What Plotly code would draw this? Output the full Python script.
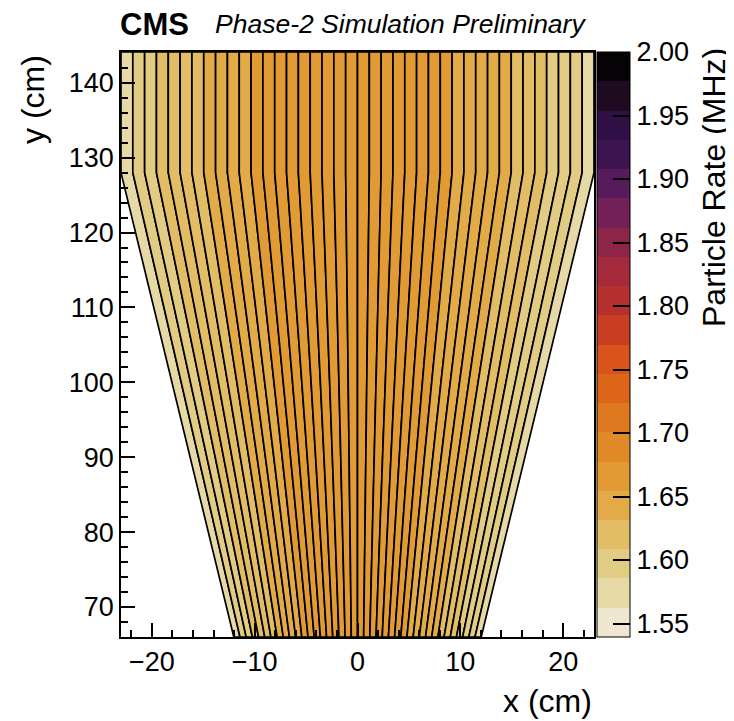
import plotly.graph_objects as go

# ---------------- data ----------------
# particle rate per strip (MHz), left to right (40 strips)
strip_rates = [1.578, 1.590, 1.600, 1.609, 1.617, 1.624, 1.631, 1.637, 1.642, 1.647,
               1.651, 1.655, 1.658, 1.661, 1.663, 1.665, 1.667, 1.668, 1.669, 1.670,
               1.670, 1.669, 1.668, 1.667, 1.665, 1.663, 1.660, 1.657, 1.654, 1.650,
               1.646, 1.641, 1.636, 1.630, 1.623, 1.616, 1.608, 1.599, 1.589, 1.577]
n_strips = len(strip_rates)
strip_x_left = -23.0          # cm, outer edge of first strip in the rectangular part
strip_pitch = 1.15            # cm
kink_y = 128.0                # cm, where strips turn from radial to vertical
apex_y = -2.0                 # cm, convergence point of radial strips (x = 0)

x_range = [-23.0, 23.0]
y_range = [66.0, 144.1]

z_min, z_max = 1.5394, 2.00
cbar_ticks = [1.55, 1.60, 1.65, 1.70, 1.75, 1.80, 1.85, 1.90, 1.95, 2.00]

band_colors = ["#efe7d2", "#e6d9a6", "#e2cc83", "#e2bd66", "#e3ab48",
               "#e29a35", "#e08a28", "#df791f", "#dc6519", "#d8541a",
               "#c83f24", "#b5302e", "#a42a3c", "#8d2548", "#722058",
               "#571a5a", "#3d1350", "#2f0f45", "#1e0b22", "#050305"]

# ---------------- figure ----------------
nb = len(band_colors)
colorscale = []
for i, c in enumerate(band_colors):
    colorscale.append([i / nb, c])
    colorscale.append([(i + 1) / nb, c])


def band_color(v):
    k = int((v - z_min) / (z_max - z_min) * nb)
    k = max(0, min(nb - 1, k))
    return band_colors[k]


def x_at(xk, y):
    return xk * (y - apex_y) / (kink_y - apex_y)


fig = go.Figure()
ybot, ytop = y_range
for i, v in enumerate(strip_rates):
    xl = strip_x_left + i * strip_pitch
    xr = xl + strip_pitch
    xs = [x_at(xl, ybot), xl, xl, xr, xr, x_at(xr, ybot), x_at(xl, ybot)]
    ys = [ybot, kink_y, ytop, ytop, kink_y, ybot, ybot]
    fig.add_trace(go.Scatter(x=xs, y=ys, mode="lines", fill="toself",
                             fillcolor=band_color(v),
                             line=dict(color="black", width=1.7),
                             hoverinfo="skip", showlegend=False))

centers = [strip_x_left + (i + 0.5) * strip_pitch for i in range(n_strips)]
fig.add_trace(go.Scatter(
    x=centers, y=[kink_y] * n_strips, mode="markers",
    marker=dict(color=strip_rates, cmin=z_min, cmax=z_max, colorscale=colorscale,
                opacity=0, size=1, showscale=True,
                colorbar=dict(x=1.0063, xanchor="left", xpad=0, ypad=0,
                              y=0.5, yanchor="middle", len=1.0, lenmode="fraction",
                              thickness=33, outlinewidth=1, outlinecolor="black",
                              tickmode="array", tickvals=cbar_ticks,
                              ticktext=["%.2f" % t for t in cbar_ticks],
                              ticks="inside", ticklen=17, tickwidth=1.5,
                              tickcolor="black",
                              tickfont=dict(size=27, color="black"))),
    hoverinfo="skip", showlegend=False))

font = "Liberation Sans, Arial, Helvetica, sans-serif"
axis_common = dict(showline=True, linecolor="black", linewidth=1.5, mirror=True,
                   ticks="inside", ticklen=14, tickwidth=1.5, tickcolor="black",
                   showgrid=False, zeroline=False, layer="above traces",
                   tickfont=dict(size=27, color="black"),
                   minor=dict(ticks="inside", ticklen=7, tickwidth=1.5,
                              tickcolor="black", dtick=2, showgrid=False))

fig.update_layout(
    width=726, height=713,
    margin=dict(l=113, r=140, t=44, b=84),
    paper_bgcolor="white", plot_bgcolor="white",
    font=dict(family=font, color="black"),
    xaxis=dict(range=x_range, dtick=10, tick0=0, **axis_common),
    yaxis=dict(range=y_range, dtick=10, tick0=0, **axis_common),
    annotations=[
        dict(text="<b>CMS</b>", xref="paper", yref="paper", x=-0.006, y=1.0475,
             xanchor="left", yanchor="middle", showarrow=False,
             font=dict(size=31, family=font)),
        dict(text="<i>Phase-2 Simulation Preliminary</i>", xref="paper", yref="paper",
             x=0.1945, y=1.048, xanchor="left", yanchor="middle",
             showarrow=False, font=dict(size=26.5, family=font)),
        dict(text="x (cm)", xref="paper", yref="paper", x=1.0, y=-0.1436,
             xanchor="right", yanchor="bottom", showarrow=False,
             font=dict(size=32, family=font)),
        dict(text="y (cm)", xref="paper", yref="paper", x=-0.186, y=0.918,
             xanchor="center", yanchor="middle", textangle=-90, showarrow=False,
             font=dict(size=32, family=font)),
        dict(text="Particle Rate (MHz)", xref="paper", yref="paper", x=1.2537, y=0.7675,
             xanchor="center", yanchor="middle", textangle=-90, showarrow=False,
             font=dict(size=32, family=font)),
    ],
)

fig.write_html("out.html")
